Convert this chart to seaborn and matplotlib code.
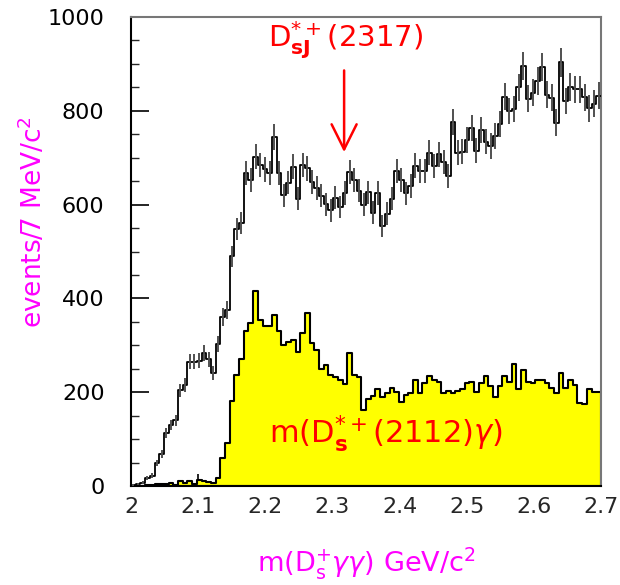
import numpy as np
import pandas as pd
import matplotlib
matplotlib.use("Agg")
import matplotlib.pyplot as plt
import seaborn as sns

# ---- data (events per 7 MeV bin, 2.000 - 2.700 GeV) ----
bin_width = 0.007
x_start = 2.0
x_end = 2.7
n_bins = 100

all_events = [2, 4, 7, 17, 22, 49, 68, 114, 130, 140,
              204, 216, 265, 265, 267, 283, 270, 241, 303, 360,
              375, 490, 547, 560, 668, 652, 702, 684, 675, 667,
              744, 667, 620, 647, 681, 613, 684, 677, 648, 635,
              619, 601, 588, 615, 595, 625, 670, 652, 630, 600,
              626, 583, 625, 554, 581, 613, 672, 652, 624, 640,
              683, 672, 672, 711, 682, 707, 691, 661, 777, 711,
              713, 738, 763, 715, 759, 734, 725, 746, 772, 830,
              800, 804, 850, 895, 826, 839, 863, 893, 834, 828,
              775, 903, 821, 851, 846, 846, 829, 805, 815, 832]

ds2112_events = [0, 0, 1, 2, 3, 5, 4, 4, 6, 3,
                 11, 7, 11, 4, 13, 11, 9, 7, 18, 59,
                 91, 182, 237, 270, 331, 347, 416, 355, 342, 341,
                 365, 331, 300, 308, 312, 286, 327, 369, 305, 289,
                 249, 258, 237, 233, 227, 218, 284, 236, 233, 163,
                 186, 192, 206, 190, 199, 210, 201, 180, 194, 198,
                 227, 198, 219, 235, 227, 222, 199, 203, 199, 203,
                 206, 219, 222, 201, 220, 234, 213, 190, 213, 234,
                 222, 260, 206, 248, 222, 219, 226, 226, 219, 208,
                 199, 240, 208, 226, 215, 176, 175, 206, 201, 201]

x_ticks = [2.0, 2.1, 2.2, 2.3, 2.4, 2.5, 2.6, 2.7]
x_tick_labels = ["2", "2.1", "2.2", "2.3", "2.4", "2.5", "2.6", "2.7"]
y_ticks = [0, 200, 400, 600, 800, 1000]

peak_mass = 2.3174
peak_label = r"D$^{*+}_{\mathbf{sJ}}$(2317)"
bkg_label = r"m(D$^{*+}_{\mathbf{s}}$(2112)$\gamma$)"
x_label = r"m(D$^{+}_{\mathrm{s}}\gamma\gamma$) GeV/c$^{2}$"
y_label = r"events/7 MeV/c$^{2}$"

# ---- derived ----
edges = x_start + bin_width * np.arange(n_bins + 1)
centers = 0.5 * (edges[:-1] + edges[1:])
all_arr = np.array(all_events, dtype=float)
bkg_arr = np.array(ds2112_events, dtype=float)
df = pd.DataFrame({"mass": centers, "all": all_arr, "bkg": bkg_arr})

sns.set_style("ticks")
plt.rcParams["font.family"] = ["DejaVu Sans"]
plt.rcParams["mathtext.fontset"] = "dejavusans"

fig = plt.figure(figsize=(6.2, 5.85), dpi=100)
ax = fig.add_axes([131 / 620, 1 - 486 / 585, 470 / 620, 469 / 585])

sns.histplot(data=df, x="mass", weights="bkg", bins=n_bins,
             binrange=(x_start, x_end), element="step",
             fill=True, color="#ffff00", edgecolor="black", alpha=1.0,
             linewidth=1.5, ax=ax, zorder=2)
sns.histplot(data=df, x="mass", weights="all", bins=n_bins,
             binrange=(x_start, x_end), element="step",
             fill=False, color="black", linewidth=1.3, ax=ax, zorder=3)
ax.errorbar(centers, all_arr, yerr=np.sqrt(all_arr), fmt="none",
            ecolor="#505050", elinewidth=1.4, capsize=0, zorder=3)

ax.set_xlim(x_start, x_end)
ax.set_ylim(0, 1000)
ax.set_xticks(x_ticks)
ax.set_xticklabels(x_tick_labels)
ax.set_yticks(y_ticks)
ax.set_yticks(np.arange(0, 1001, 50), minor=True)

ax.tick_params(axis="y", which="major", direction="in", length=13,
               width=1.2, labelsize=16, pad=19, colors="black")
ax.tick_params(axis="y", which="minor", direction="in", length=6,
               width=1.0)
ax.tick_params(axis="x", which="major", direction="in", length=9,
               width=1.4, labelsize=16, pad=8)
ax.tick_params(axis="x", which="minor", length=0)

for side in ["left", "bottom"]:
    ax.spines[side].set_color("black")
    ax.spines[side].set_linewidth(1.5)
for side in ["top", "right"]:
    ax.spines[side].set_visible(True)
    ax.spines[side].set_color("#777777")
    ax.spines[side].set_linewidth(1.5)

ax.set_xlabel(x_label, color="#ff00ff", fontsize=19.5)
ax.xaxis.set_label_coords((366 - 131) / 470, (486 - 563) / 469)
ax.xaxis.label.set_va("center")
ax.set_ylabel(y_label, color="#ff00ff", fontsize=19)
ax.yaxis.set_label_coords((33 - 131) / 470, (486 - 222) / 469)
ax.yaxis.label.set_va("center")

ax.text(peak_mass + 0.002, 950, peak_label, color="red", fontsize=21,
        ha="center", va="center", zorder=5)
ax.annotate("", xy=(peak_mass, 706), xytext=(peak_mass, 892),
            arrowprops=dict(arrowstyle="->,head_length=1.8,head_width=0.9",
                            color="red", lw=1.8), zorder=5)
ax.text(2.206, 113, bkg_label, color="red", fontsize=22,
        ha="left", va="center", zorder=5)

fig.savefig("out.png", dpi=100)
